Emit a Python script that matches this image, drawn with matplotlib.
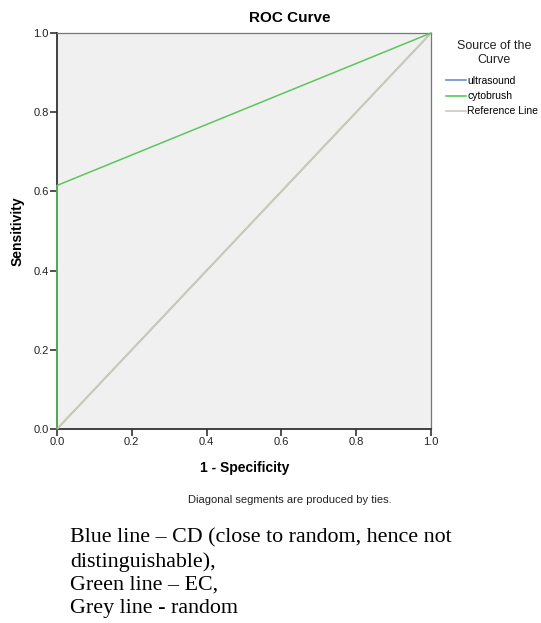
import matplotlib
matplotlib.use("Agg")
import matplotlib.pyplot as plt
from matplotlib.lines import Line2D

plt.rcParams['font.family'] = ['Liberation Sans', 'DejaVu Sans']

# Data
ultrasound_fpr = [0.0, 1.0]
ultrasound_tpr = [0.0, 1.0]
cytobrush_fpr = [0.0, 0.0, 1.0]
cytobrush_tpr = [0.0, 0.615, 1.0]
reference_x = [0.0, 1.0]
reference_y = [0.0, 1.0]
series_names = ["ultrasound", "cytobrush", "Reference Line"]
ticks = [0.0, 0.2, 0.4, 0.6, 0.8, 1.0]
tick_labels = ["0.0", "0.2", "0.4", "0.6", "0.8", "1.0"]

colors = ["#6f8fd0", "#5cc65c", "#cdcbb8"]

W, H = 541, 623
fig = plt.figure(figsize=(W / 100, H / 100), dpi=100)
x0, x1, y0, y1 = 57, 431, 33, 429
ax = fig.add_axes([x0 / W, 1 - y1 / H, (x1 - x0) / W, (y1 - y0) / H])
ax.set_facecolor("#f0f0f0")

ax.plot(ultrasound_fpr, ultrasound_tpr, color=colors[0], lw=1.1, zorder=2)
ax.plot(reference_x, reference_y, color=colors[2], lw=1.4, zorder=3)
ax.plot(cytobrush_fpr, cytobrush_tpr, color=colors[1], lw=1.1, zorder=4, clip_on=False)

ax.set_xlim(0, 1)
ax.set_ylim(0, 1)
ax.set_xticks(ticks)
ax.set_xticklabels(tick_labels)
ax.set_yticks(ticks)
ax.set_yticklabels(tick_labels)
ax.tick_params(direction="out", length=5, width=1.2, color="#333333",
               labelsize=8, labelcolor="#222222", pad=1)
for s in ["left", "bottom"]:
    ax.spines[s].set_color("#333333")
    ax.spines[s].set_linewidth(1.3)
for s in ["top", "right"]:
    ax.spines[s].set_color("#777777")
    ax.spines[s].set_linewidth(0.9)

ax.set_xlabel("1 - Specificity", fontsize=10, fontweight="bold")
ax.set_ylabel("Sensitivity", fontsize=10, fontweight="bold")
ax.xaxis.set_label_coords((245 - x0) / (x1 - x0), (y1 - 468) / (y1 - y0))
ax.yaxis.set_label_coords((18 - x0) / (x1 - x0), 0.5)
ax.xaxis.label.set_va("center")
ax.yaxis.label.set_va("center")

fig.text(290 / W, 1 - 18 / H, "ROC Curve", ha="center", va="center",
         fontsize=11, fontweight="bold")

# Legend
fig.text(494 / W, 1 - 53 / H, "Source of the\nCurve", ha="center", va="center",
         fontsize=9, color="#222222", linespacing=1.2, multialignment="center")
handles = [Line2D([0], [0], color=c, lw=1.2) for c in colors]
leg = fig.legend(handles, series_names,
                 loc="upper left", bbox_to_anchor=(446 / W, 1 - 76 / H),
                 frameon=False, fontsize=7.5,
                 handlelength=1.9, handletextpad=0.15, labelspacing=0.5,
                 borderaxespad=0, borderpad=0)

fig.text(290 / W, 1 - 500 / H, "Diagonal segments are produced by ties.",
         ha="center", va="center", fontsize=8, color="#222222")

lines = ["Blue line \u2013 CD (close to random, hence not",
         "distinguishable),",
         "Green line \u2013 EC,",
         "Grey line - random"]
ys = [538, 562, 585, 608]
for t, y in zip(lines, ys):
    fig.text(70 / W, 1 - y / H, t, ha="left", va="center",
             fontsize=15.8, family="Liberation Serif")

fig.savefig("out.png", dpi=100)
